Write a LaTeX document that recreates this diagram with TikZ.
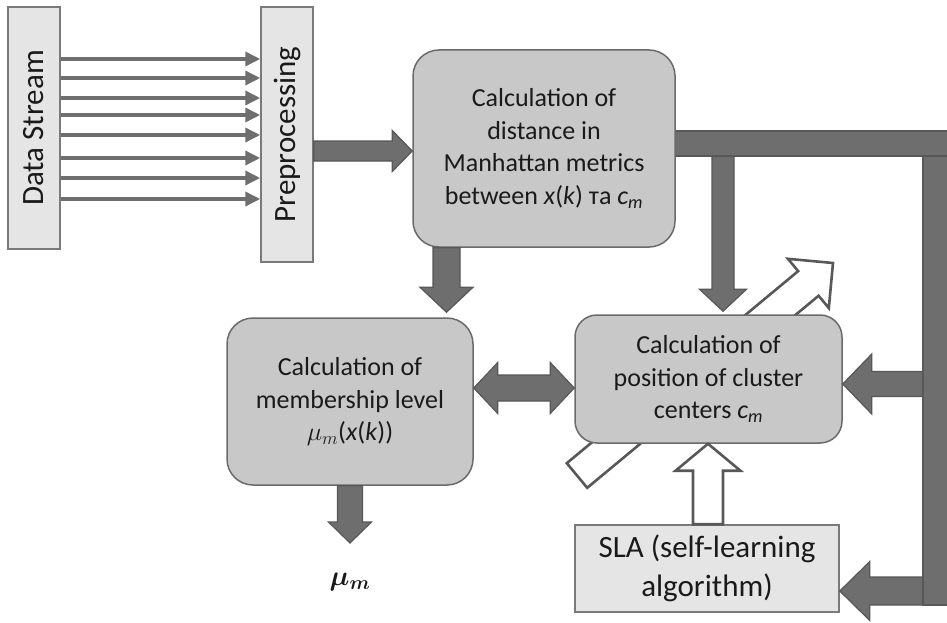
\documentclass[tikz,border=0pt]{standalone}
\usepackage{fix-cm}
\usepackage{graphicx}
\usepackage{bm}
\usepackage{fontspec}
\setmainfont{Carlito}
\usetikzlibrary{calc,arrows.meta}

\definecolor{arrowgray}{HTML}{6E6E6E}
\definecolor{edgegray}{HTML}{585858}
\definecolor{boxgray}{HTML}{C8C8C8}
\definecolor{boxedge}{HTML}{6A6A6A}
\definecolor{palegray}{HTML}{E5E5E5}
\definecolor{paleedge}{HTML}{7A7A7A}
\definecolor{ink}{HTML}{1A1A1A}

% Block arrow from #2 to #3: shaft half-width #4, head half-width #5, head length #6
\newcommand{\blockarrow}[6][]{%
  \path[#1] let \p1=(#2), \p2=(#3),
    \n1={atan2(\y2-\y1,\x2-\x1)}, \n2={veclen(\x2-\x1,\y2-\y1)} in
    [shift={(\p1)}, rotate=\n1]
    (0pt,#4pt) -- (\n2-#6pt,#4pt) -- (\n2-#6pt,#5pt) -- (\n2+0pt,0pt)
    -- (\n2-#6pt,-#5pt) -- (\n2-#6pt,-#4pt) -- (0pt,-#4pt) -- cycle;}

% Block arrow with a head at both ends
\newcommand{\twowayarrow}[6][]{%
  \path[#1] let \p1=(#2), \p2=(#3),
    \n1={atan2(\y2-\y1,\x2-\x1)}, \n2={veclen(\x2-\x1,\y2-\y1)} in
    [shift={(\p1)}, rotate=\n1]
    (0pt,0pt) -- (#6pt,#5pt) -- (#6pt,#4pt) -- (\n2-#6pt,#4pt) -- (\n2-#6pt,#5pt)
    -- (\n2+0pt,0pt) -- (\n2-#6pt,-#5pt) -- (\n2-#6pt,-#4pt) -- (#6pt,-#4pt)
    -- (#6pt,-#5pt) -- cycle;}

\begin{document}
\begin{tikzpicture}[x=1pt,y=-1pt,
  box/.style={rectangle, inner sep=0pt, text=ink, align=center, line width=1.5pt},
  calcbox/.style={box, rounded corners=26pt, fill=boxgray, draw=boxedge,
    font=\fontsize{26pt}{32.5pt}\selectfont},
  inputbox/.style={box, fill=palegray, draw=paleedge,
    font=\fontsize{31pt}{39pt}\selectfont},
  outlabel/.style={inner sep=0pt, text=ink, font=\fontsize{28pt}{34pt}\selectfont},
  bar/.style={rectangle, inner sep=0pt, fill=arrowgray, draw=edgegray, line width=1.2pt},
  solidarrow/.style={fill=arrowgray, draw=edgegray, line width=1.2pt, line join=miter},
  hollowarrow/.style={fill=white, draw=edgegray, line width=2.6pt, line join=miter},
  feed/.style={draw=arrowgray, line width=3.5pt, -{Triangle[length=15pt,width=14pt]}}]

\useasboundingbox (0,0) rectangle (947,623);
\clip (0,0) rectangle (947,623);
\fill[white] (0,0) rectangle (947,623);

% adaptation arrow passing behind the cluster-centre block
\coordinate (tailpt) at (577,475.5);
\coordinate (headpt) at (833,263);
\blockarrow[hollowarrow]{tailpt}{headpt}{16}{32}{32}

% distance bus
\node[bar, minimum width=27pt, minimum height=449pt] (vbar) at (936.5,380.5) {};
\node[bar, minimum width=275pt, minimum height=25pt] (hbar) at (812.5,143.5) {};

% blocks
\node[inputbox, minimum width=52pt, minimum height=242pt] (ds) at (34,128)
  {\rotatebox{90}{Data Stream}};
\node[inputbox, minimum width=52pt, minimum height=255pt] (pre) at (287,134.5)
  {\rotatebox{90}{Preprocessing}};
\node[calcbox, minimum width=262pt, minimum height=197pt] (manh) at (544,148.5)
  {Calculation of\\distance in\\Manhattan metrics\\between \textit{x}(\textit{k}) та \textit{c}\textsubscript{\textit{m}}};
\node[calcbox, minimum width=246pt, minimum height=167pt] (memb) at (350,401.5)
  {Calculation of\\membership level\\$\mu_m$(\textit{x}(\textit{k}))};
\node[calcbox, minimum width=267pt, minimum height=128pt, rounded corners=22pt] (cluster) at (708.5,379)
  {Calculation of\\position of cluster\\centers \textit{c}\textsubscript{\textit{m}}};
\node[inputbox, minimum width=264pt, minimum height=87pt] (sla) at (707,568.5)
  {SLA (self-learning\\algorithm)};
\node[outlabel] (mu) at (350,582) {$\bm{\mu}_{\bm{m}}$};

% raw stream channels
\foreach \yy in {59,78,98,115,135,158,178,199}
  \draw[feed] (ds.east |- 0,\yy) -- (pre.west |- 0,\yy);

% data flow
\blockarrow[solidarrow]{pre.east |- 0,151}{manh.west |- 0,151}{10}{20.5}{20}
\blockarrow[solidarrow]{manh.south -| 446.5,0}{$(memb.north -| 446.5,0)+(0,-5)$}{13.5}{26.5}{25}
\blockarrow[solidarrow]{hbar.south -| 723,0}{$(cluster.north -| 723,0)+(0,-3)$}{11}{23.5}{22}
\blockarrow[solidarrow]{vbar.west |- 0,384}{cluster.east |- 0,384}{12.5}{30}{29}
\blockarrow[solidarrow]{vbar.west |- 0,591}{sla.east |- 0,591}{14}{29.5}{30}
\twowayarrow[solidarrow]{memb.east |- 0,388}{cluster.west |- 0,388}{13}{25.5}{24}
\coordinate (muin) at (350,543);
\blockarrow[solidarrow]{memb.south}{muin}{12.5}{21.5}{21}
\blockarrow[hollowarrow]{sla.north -| 708,0}{cluster.south -| 708,0}{15}{32.5}{27}

\end{tikzpicture}
\end{document}
